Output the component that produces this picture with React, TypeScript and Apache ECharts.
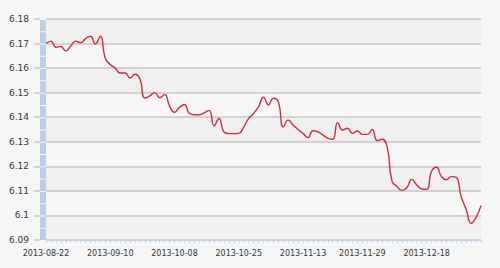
import React, { useEffect, useRef } from "react";
import * as echarts from "echarts";

const dates: string[] = [
  "2013-08-22","2013-08-23","2013-08-26","2013-08-27","2013-08-28","2013-08-29","2013-08-30",
  "2013-09-02","2013-09-03","2013-09-04","2013-09-05","2013-09-06","2013-09-09","2013-09-10",
  "2013-09-11","2013-09-12","2013-09-13","2013-09-16","2013-09-17","2013-09-18",
  "2013-09-23","2013-09-24","2013-09-25","2013-09-26","2013-09-27","2013-09-30",
  "2013-10-08","2013-10-09","2013-10-10","2013-10-11","2013-10-14","2013-10-15","2013-10-16",
  "2013-10-17","2013-10-18","2013-10-21","2013-10-22","2013-10-23","2013-10-24","2013-10-25",
  "2013-10-28","2013-10-29","2013-10-30","2013-10-31","2013-11-01","2013-11-04","2013-11-05",
  "2013-11-06","2013-11-07","2013-11-08","2013-11-11","2013-11-12","2013-11-13","2013-11-14",
  "2013-11-15","2013-11-18","2013-11-19","2013-11-20","2013-11-21","2013-11-22","2013-11-25",
  "2013-11-26","2013-11-27","2013-11-28","2013-11-29","2013-12-02","2013-12-03","2013-12-04",
  "2013-12-05","2013-12-06","2013-12-09","2013-12-10","2013-12-11","2013-12-12","2013-12-13",
  "2013-12-16","2013-12-17","2013-12-18","2013-12-19","2013-12-20","2013-12-23","2013-12-24",
  "2013-12-25","2013-12-26","2013-12-27","2013-12-30","2013-12-31","2014-01-02","2014-01-03",
];

const rates: number[] = [
  6.1700, 6.1710, 6.1685, 6.1688, 6.1670, 6.1690, 6.1710, 6.1703, 6.1720, 6.1730,
  6.1698, 6.1730, 6.1640, 6.1615, 6.1600, 6.1580, 6.1580, 6.1560, 6.1575, 6.1556,
  6.1478, 6.1487, 6.1500, 6.1480, 6.1492, 6.1445, 6.1420, 6.1440, 6.1452, 6.1415,
  6.1410, 6.1410, 6.1418, 6.1428, 6.1365, 6.1395, 6.1340, 6.1333, 6.1333, 6.1334,
  6.1360, 6.1395, 6.1415, 6.1443, 6.1482, 6.1450, 6.1477, 6.1462, 6.1360, 6.1388,
  6.1368, 6.1350, 6.1334, 6.1317, 6.1345, 6.1340, 6.1328, 6.1315, 6.1310, 6.1378,
  6.1348, 6.1355, 6.1334, 6.1344, 6.1330, 6.1330, 6.1350, 6.1305, 6.1310, 6.1280,
  6.1140, 6.1118, 6.1102, 6.1113, 6.1147, 6.1124, 6.1108, 6.1106, 6.1180, 6.1196,
  6.1158, 6.1145, 6.1158, 6.1155, 6.1075, 6.1025, 6.0968, 6.0992, 6.1040,
];

const xTickLabels: string[] = [
  "2013-08-22", "2013-09-10", "2013-10-08", "2013-10-25", "2013-11-13", "2013-11-29", "2013-12-18",
];

const yMin = 6.09;
const yMax = 6.18;
const yStep = 0.01;

export default function App() {
  const ref = useRef<HTMLDivElement>(null);
  useEffect(() => {
    if (!ref.current) return;
    const chart = echarts.init(ref.current, null, { renderer: "svg" });
    const labelColor = "#2e3945";
    const font = "'DejaVu Sans', Verdana, sans-serif";
    chart.setOption({
      animation: false,
      backgroundColor: "#f6f6f6",
      grid: { left: 46, right: 19, top: 19, bottom: 28 },
      xAxis: {
        type: "category",
        data: dates,
        boundaryGap: false,
        axisLine: { show: true, lineStyle: { color: "#c3d4e6", width: 1 } },
        axisTick: { show: true, interval: 0, length: 3, lineStyle: { color: "#bfd1e4" } },
        axisLabel: {
          interval: (_i: number, v: string) => xTickLabels.includes(v),
          color: labelColor,
          fontSize: 8,
          fontFamily: font,
          margin: 9,
        },
        splitLine: { show: false },
        z: 5,
      },
      yAxis: [
        {
          type: "value",
          min: yMin,
          max: yMax,
          interval: yStep,
          offset: 6,
          axisLine: { show: false },
          axisTick: { show: true, length: 6, lineStyle: { color: "#c8c8c8", width: 1.5 } },
          axisLabel: {
            color: labelColor,
            fontSize: 9,
            fontFamily: font,
            margin: 11,
            formatter: (v: number) => String(parseFloat(v.toFixed(2))),
          },
          splitLine: { show: true, lineStyle: { color: "#c6c6c6", width: 1.6 } },
          splitArea: { show: true, areaStyle: { color: ["#f0f0f0", "#f7f7f7"] } },
        },
        {
          type: "value",
          min: yMin,
          max: yMax,
          interval: yStep,
          position: "left",
          offset: 3,
          axisLine: {
            show: true,
            lineStyle: { color: "#bccfe2", width: 6, type: [11.28, 1], cap: "butt" },
          },
          axisTick: { show: false },
          axisLabel: { show: false },
          splitLine: { show: false },
          splitArea: { show: false },
        },
      ],
      series: [
        {
          type: "line",
          data: rates,
          smooth: 0.5,
          showSymbol: false,
          symbol: "none",
          lineStyle: { color: "#d02c3c", width: 1.4 },
          z: 3,
        },
      ],
    });
    return () => chart.dispose();
  }, []);
  return (
    <div
      ref={ref}
      style={{ position: "fixed", left: 0, top: 0, width: 500, height: 268, background: "#f6f6f6" }}
    />
  );
}
